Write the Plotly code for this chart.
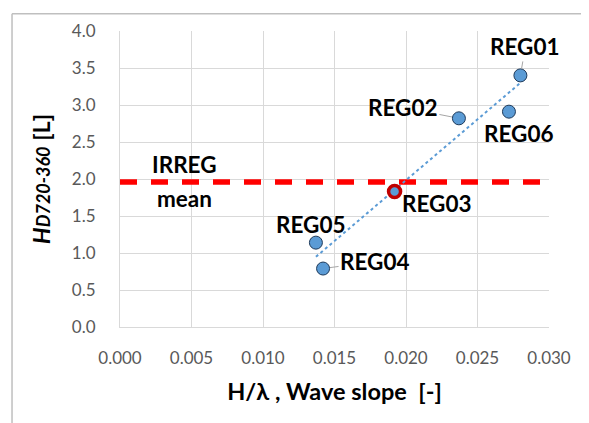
import numpy as np
import plotly.graph_objects as go

labels = ["REG01", "REG02", "REG03", "REG04", "REG05", "REG06"]
wave_slope = [0.0280, 0.0237, 0.0192, 0.0142, 0.0137, 0.0272]
hd_values = [3.40, 2.82, 1.83, 0.79, 1.14, 2.91]
irreg_mean = 1.96
mean_x_range = [0.0, 0.0294]
x_ticks = [0.000, 0.005, 0.010, 0.015, 0.020, 0.025, 0.030]
y_ticks = [0.0, 0.5, 1.0, 1.5, 2.0, 2.5, 3.0, 3.5, 4.0]

FONT = "Lato"
fig = go.Figure()

# IRREG mean line
fig.add_trace(go.Scatter(x=mean_x_range, y=[irreg_mean, irreg_mean], mode="lines",
                         line=dict(color="#ff0000", width=5.5, dash="17px,14px"),
                         hoverinfo="skip", showlegend=False))

# linear trendline
coef = np.polyfit(wave_slope, hd_values, 1)
tx = np.array([min(wave_slope), max(wave_slope)])
fig.add_trace(go.Scatter(x=tx, y=np.polyval(coef, tx), mode="lines",
                         line=dict(color="#5B9BD5", width=2, dash="dot"),
                         hoverinfo="skip", showlegend=False))

fig.add_trace(go.Scatter(x=wave_slope, y=hd_values, mode="markers",
                         marker=dict(size=13, color="#5B9BD5",
                                     line=dict(color="#1F3A5A", width=1)),
                         text=labels, showlegend=False))

# highlighted REG03 ring
i3 = labels.index("REG03")
fig.add_trace(go.Scatter(x=[wave_slope[i3]], y=[hd_values[i3]], mode="markers",
                         marker=dict(size=12, symbol="circle-open", color="#C00000",
                                     line=dict(color="#C00000", width=3.5)),
                         showlegend=False))

offsets = {"REG01": (5, -29, True), "REG02": (-56, -11, True), "REG03": (42, 12, False),
           "REG04": (52, -7, True), "REG05": (-5, -18, False), "REG06": (10, 22, False)}
for lab, xv, yv in zip(labels, wave_slope, hd_values):
    ax, ay, arrow = offsets[lab]
    fig.add_annotation(x=xv, y=yv, xref="x", yref="y", text="<b>%s</b>" % lab,
                       ax=ax, ay=ay, showarrow=True, arrowhead=0,
                       arrowwidth=1, arrowcolor="#A6A6A6" if arrow else "rgba(0,0,0,0)",
                       standoff=7, font=dict(family=FONT, size=22.5, color="#000000"))

fig.add_annotation(x=0.00448, y=2.20, xref="x", yref="y", text="<b>IRREG</b>",
                   showarrow=False, font=dict(family=FONT, size=22.5, color="#000000"))
fig.add_annotation(x=0.00448, y=1.74, xref="x", yref="y", text="<b>mean</b>",
                   showarrow=False, font=dict(family=FONT, size=22.5, color="#000000"))

# outer border (left/top visible)
fig.add_shape(type="line", xref="paper", yref="paper", x0=-0.2517, x1=-0.2517, y0=-0.4, y1=1.0581,
              line=dict(color="#BFBFBF", width=1.5), layer="below")
fig.add_shape(type="line", xref="paper", yref="paper", x0=-0.2517, x1=1.2, y0=1.0581, y1=1.0581,
              line=dict(color="#BFBFBF", width=1.5), layer="below")

fig.update_layout(
    width=581, height=415,
    margin=dict(l=112, r=40, t=18, b=96),
    paper_bgcolor="white", plot_bgcolor="white",
    font=dict(family=FONT, color="#595959"),
    xaxis=dict(range=[0, 0.030], tickvals=x_ticks, ticktext=["%.3f" % v for v in x_ticks],
               showgrid=True, gridcolor="#D9D9D9", gridwidth=1,
               showline=True, linecolor="#D9D9D9", zeroline=False,
               tickfont=dict(size=17, color="#595959"), ticks="", ticklabelstandoff=16,
               title=dict(text="<b>H/λ , Wave slope  [-]</b>",
                          font=dict(family=FONT, size=23.5, color="#000000"), standoff=16)),
    yaxis=dict(range=[0, 4.0], tickvals=y_ticks, ticktext=["%.1f" % v for v in y_ticks],
               showgrid=True, gridcolor="#D9D9D9", gridwidth=1,
               showline=True, linecolor="#D9D9D9", zeroline=False,
               tickfont=dict(size=17, color="#595959"), ticks="", ticklabelstandoff=20,
               title=dict(text="<b><i>H<span style='font-size:18px'>D720-360</span></i> [L]</b>",
                          font=dict(family=FONT, size=23.5, color="#000000"), standoff=14)),
)

fig.write_html("out.html")
